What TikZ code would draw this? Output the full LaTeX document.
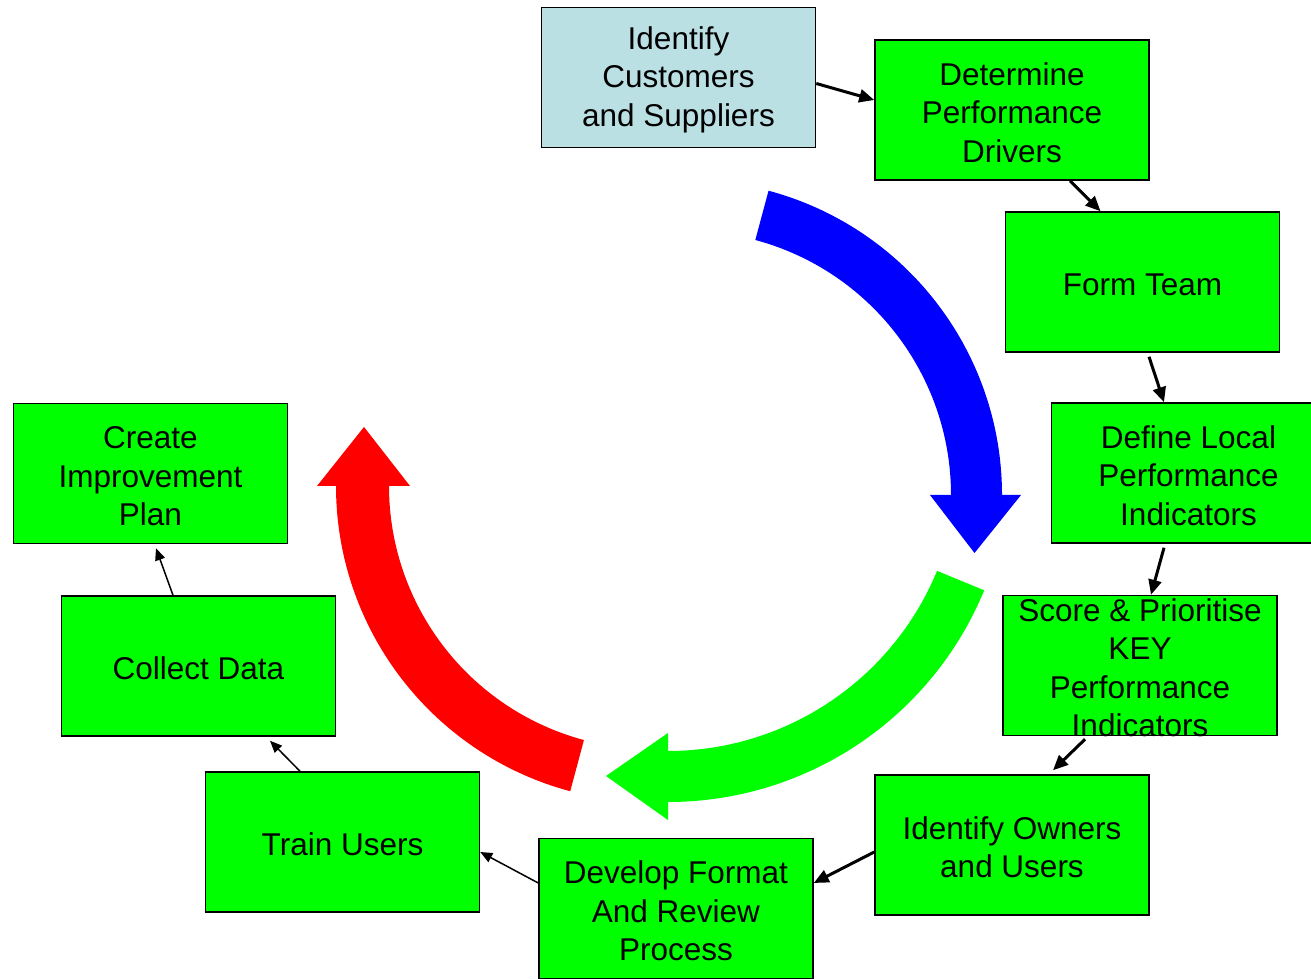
\documentclass[tikz,border=0pt]{standalone}
\usepackage{fontspec}
\setmainfont{Liberation Sans}
\usetikzlibrary{arrows.meta,calc}

\definecolor{boxgreen}{RGB}{0,255,0}
\definecolor{paleblue}{RGB}{187,224,228}
\definecolor{arcblue}{RGB}{0,0,255}
\definecolor{arcgreen}{RGB}{0,255,0}
\definecolor{arcred}{RGB}{255,0,0}

% keeps the first line of every box at the same height
\newcommand{\firstlinestrut}{\rule{0pt}{27.5pt}}

\tikzset{
  stepbox/.style={draw=black, line width=1.5pt, fill=boxgreen,
    minimum width=274pt, minimum height=140pt, inner sep=0pt,
    align=center, font=\fontsize{31.5}{38.5}\selectfont},
  startbox/.style={stepbox, fill=paleblue},
  flow/.style={line width=3pt, -{Triangle[length=15pt,width=13pt]}},
  thinflow/.style={line width=1.5pt, -{Triangle[length=12pt,width=10pt]}},
}

\begin{document}
\begin{tikzpicture}[x=1pt,y=1pt]
\useasboundingbox (0,0) rectangle (1311,978);
\clip (0,0) rectangle (1311,978);

% cycle of big curved arrows
\coordinate (bc) at (687,483);
\coordinate (gc) at (668,518);
\coordinate (rc) at (652,492);

\fill[arcblue] ($(bc)+(75:315)$) arc[start angle=75, end angle=0, radius=315pt]
  -- (1021,483) -- (974.5,425) -- (930,483) -- ($(bc)+(0:264)$)
  arc[start angle=0, end angle=75, radius=264pt] -- cycle;

\fill[arcgreen] ($(gc)+(-22.4:342)$) arc[start angle=-22.4, end angle=-90, radius=342pt]
  -- (668,158) -- (606,202) -- (668,245) -- ($(gc)+(-90:291)$)
  arc[start angle=-90, end angle=-22.4, radius=291pt] -- cycle;

\fill[arcred] ($(rc)+(255:316)$) arc[start angle=255, end angle=180, radius=316pt]
  -- (317,492) -- (364,551) -- (410,492) -- ($(rc)+(180:263)$)
  arc[start angle=180, end angle=255, radius=263pt] -- cycle;

% process steps
\node[startbox] (n1) at (678.5,900.5) {\firstlinestrut Identify\\Customers\\and Suppliers};
\node[stepbox] (n2) at (1012,868) {\firstlinestrut Determine\\Performance\\Drivers};
\node[stepbox] (n3) at (1142.5,696) {\firstlinestrut Form Team};
\node[stepbox] (n4) at (1188.5,505) {\firstlinestrut Define Local\\Performance\\Indicators};
\node[stepbox, inner ysep=-6pt] (n5) at (1140,312.5) {\firstlinestrut Score \& Prioritise\\KEY\\Performance\\Indicators};
\node[stepbox] (n6) at (1012,133) {\firstlinestrut Identify Owners\\and Users};
\node[stepbox] (n7) at (676,69.5) {\firstlinestrut Develop Format\\And Review\\Process};
\node[stepbox] (n8) at (342.5,136) {\firstlinestrut Train Users};
\node[stepbox] (n9) at (198.5,312) {\firstlinestrut Collect Data};
\node[stepbox] (n10) at (150.5,504.5) {\firstlinestrut Create\\Improvement\\Plan};

% connectors between steps
\draw[flow] ([yshift=-6pt]n1.east) -- ([yshift=10pt]n2.west);
\draw[flow] ([xshift=58pt]n2.south) -- ([xshift=-42pt]n3.north);
\draw[flow] ([xshift=6.5pt,yshift=-4pt]n3.south) -- ([xshift=-24.5pt]n4.north);
\draw[flow] ([xshift=-24.5pt,yshift=-4pt]n4.south) -- ([xshift=11pt]n5.north);
\draw[flow] ([xshift=-55pt,yshift=-3pt]n5.south) -- ([xshift=41pt,yshift=4pt]n6.north);
\draw[flow] ([yshift=-7pt]n6.west) -- ([yshift=25.5pt]n7.east);
\draw[thinflow] ([yshift=25.5pt]n7.west) -- ([yshift=-10pt]n8.east);
\draw[thinflow] ([xshift=-42.5pt]n8.north) -- ([xshift=71.5pt,yshift=-4pt]n9.south);
\draw[thinflow] ([xshift=-25.5pt]n9.north) -- ([xshift=5.5pt,yshift=-4pt]n10.south);
\end{tikzpicture}
\end{document}
